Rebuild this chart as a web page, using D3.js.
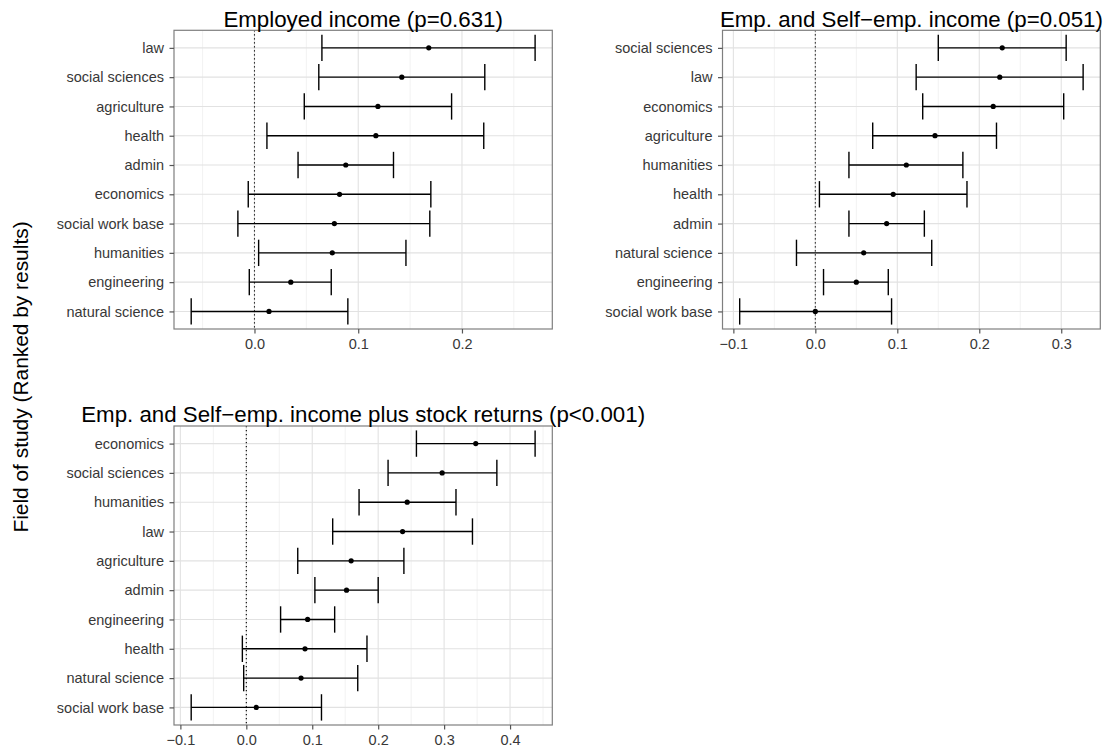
<!DOCTYPE html>
<html>
<head>
<meta charset="utf-8">
<script src="https://cdn.jsdelivr.net/npm/d3@7"></script>
<style>
  html, body { margin: 0; padding: 0; background: #fff; }
  svg { display: block; font-family: "Liberation Sans", Arial, Helvetica, sans-serif; }
</style>
</head>
<body>
<svg id="chart" width="1105" height="752"></svg>
<script>
// Employed income: fields ranked by estimate, with confidence limits
const fieldsEmp = ["law", "social sciences", "agriculture", "health", "admin",
  "economics", "social work base", "humanities", "engineering", "natural science"];
const estEmp = [0.168, 0.142, 0.119, 0.117, 0.088, 0.082, 0.077, 0.075, 0.035, 0.014];
const lowEmp = [0.065, 0.062, 0.048, 0.012, 0.042, -0.006, -0.016, 0.004, -0.005, -0.061];
const highEmp = [0.2705, 0.222, 0.190, 0.221, 0.134, 0.170, 0.169, 0.146, 0.074, 0.090];

// Employed and self-employed income
const fieldsSelf = ["social sciences", "law", "economics", "agriculture", "humanities",
  "health", "admin", "natural science", "engineering", "social work base"];
const estSelf = [0.228, 0.225, 0.217, 0.146, 0.111, 0.095, 0.087, 0.059, 0.050, 0.000];
const lowSelf = [0.150, 0.123, 0.131, 0.070, 0.041, 0.005, 0.041, -0.023, 0.010, -0.0923];
const highSelf = [0.306, 0.3267, 0.303, 0.221, 0.180, 0.185, 0.133, 0.142, 0.089, 0.093];

// Employed and self-employed income plus stock returns
const fieldsStock = ["economics", "social sciences", "humanities", "law", "agriculture",
  "admin", "engineering", "health", "natural science", "social work base"];
const estStock = [0.348, 0.297, 0.244, 0.237, 0.159, 0.152, 0.093, 0.089, 0.083, 0.015];
const lowStock = [0.258, 0.215, 0.171, 0.131, 0.078, 0.104, 0.052, -0.006, -0.004, -0.0836];
const highStock = [0.438, 0.380, 0.318, 0.343, 0.239, 0.200, 0.134, 0.183, 0.169, 0.114];

// Axis breaks and their labels
const breaksEmp = [0.0, 0.1, 0.2];
const labelsEmp = ["0.0", "0.1", "0.2"];
const breaksSelf = [-0.1, 0.0, 0.1, 0.2, 0.3];
const labelsSelf = ["\u22120.1", "0.0", "0.1", "0.2", "0.3"];
const breaksStock = [-0.1, 0.0, 0.1, 0.2, 0.3, 0.4];
const labelsStock = ["\u22120.1", "0.0", "0.1", "0.2", "0.3", "0.4"];

const titles = [
  "Employed income (p=0.631)",
  "Emp. and Self\u2212emp. income (p=0.051)",
  "Emp. and Self\u2212emp. income plus stock returns (p<0.001)"
];
const yTitle = "Field of study (Ranked by results)";

const svg = d3.select("#chart");

function drawPanel(cfg) {
  const { box, title, fields, est, low, high, breaks, labels } = cfg;
  const g = svg.append("g");

  // x range padded by 5% of the data span on each side
  const lo = d3.min(low), hi = d3.max(high);
  const pad = 0.05 * (hi - lo);
  const x = d3.scaleLinear().domain([lo - pad, hi + pad]).range([box.left, box.right]);
  const y = d3.scalePoint().domain(fields).range([box.top, box.bottom]).padding(0.6);
  const step = y.step();

  // background
  g.append("rect")
    .attr("x", box.left).attr("y", box.top)
    .attr("width", box.right - box.left).attr("height", box.bottom - box.top)
    .attr("fill", "#fff");

  // minor grid halfway between breaks
  const d = breaks[1] - breaks[0];
  const minor = [];
  for (let v = breaks[0] - d / 2; v <= breaks[breaks.length - 1] + d; v += d) minor.push(+v.toFixed(4));
  const [d0, d1] = x.domain();
  g.selectAll(".minor").data(minor.filter(v => v > d0 && v < d1)).join("line")
    .attr("x1", v => x(v)).attr("x2", v => x(v))
    .attr("y1", box.top).attr("y2", box.bottom)
    .attr("stroke", "#f2f2f2").attr("stroke-width", 1);

  // major grid
  g.selectAll(".majorx").data(breaks).join("line")
    .attr("x1", v => x(v)).attr("x2", v => x(v))
    .attr("y1", box.top).attr("y2", box.bottom)
    .attr("stroke", "#e2e2e2").attr("stroke-width", 1.1);
  g.selectAll(".majory").data(fields).join("line")
    .attr("x1", box.left).attr("x2", box.right)
    .attr("y1", f => y(f)).attr("y2", f => y(f))
    .attr("stroke", "#e2e2e2").attr("stroke-width", 1.1);

  // reference line at zero
  g.append("line")
    .attr("x1", x(0)).attr("x2", x(0))
    .attr("y1", box.top).attr("y2", box.bottom)
    .attr("stroke", "#000").attr("stroke-width", 1.1)
    .attr("stroke-dasharray", "1.2,2.8");

  // error bars
  const rows = fields.map((f, i) => ({ f, e: est[i], l: low[i], h: high[i] }));
  const bars = g.selectAll(".bar").data(rows).join("g");
  bars.append("line")
    .attr("x1", r => x(r.l)).attr("x2", r => x(r.h))
    .attr("y1", r => y(r.f)).attr("y2", r => y(r.f))
    .attr("stroke", "#000").attr("stroke-width", 1.4);
  bars.append("line")
    .attr("x1", r => x(r.l)).attr("x2", r => x(r.l))
    .attr("y1", r => y(r.f) - 0.45 * step).attr("y2", r => y(r.f) + 0.45 * step)
    .attr("stroke", "#000").attr("stroke-width", 1.4);
  bars.append("line")
    .attr("x1", r => x(r.h)).attr("x2", r => x(r.h))
    .attr("y1", r => y(r.f) - 0.45 * step).attr("y2", r => y(r.f) + 0.45 * step)
    .attr("stroke", "#000").attr("stroke-width", 1.4);
  bars.append("circle")
    .attr("cx", r => x(r.e)).attr("cy", r => y(r.f)).attr("r", 2.6)
    .attr("fill", "#000");

  // panel border
  g.append("rect")
    .attr("x", box.left).attr("y", box.top)
    .attr("width", box.right - box.left).attr("height", box.bottom - box.top)
    .attr("fill", "none").attr("stroke", "#7f7f7f").attr("stroke-width", 1.2);

  // axes
  const xAxis = g.append("g")
    .attr("transform", `translate(0,${box.bottom})`)
    .call(d3.axisBottom(x).tickValues(breaks).tickFormat((v, i) => labels[i])
      .tickSize(4.5).tickPadding(5.5));
  const yAxis = g.append("g")
    .attr("transform", `translate(${box.left},0)`)
    .call(d3.axisLeft(y).tickSize(4.5).tickPadding(5.5));
  [xAxis, yAxis].forEach(a => {
    a.select(".domain").remove();
    a.selectAll(".tick line").attr("stroke", "#555").attr("stroke-width", 1.2);
    a.selectAll(".tick text").attr("fill", "#383838")
      .style("font-size", "14.5px").style("font-family", "'Liberation Sans', Arial, sans-serif");
  });

  // title centred over the panel
  g.append("text")
    .attr("x", (box.left + box.right) / 2).attr("y", box.top - 3.8)
    .attr("text-anchor", "middle")
    .style("font-size", "22.3px").attr("fill", "#000")
    .text(title);
}

drawPanel({
  box: { left: 174, right: 552.3, top: 30.3, bottom: 329 },
  title: titles[0], fields: fieldsEmp, est: estEmp, low: lowEmp, high: highEmp,
  breaks: breaksEmp, labels: labelsEmp
});
drawPanel({
  box: { left: 722.5, right: 1100.3, top: 30.3, bottom: 329 },
  title: titles[1], fields: fieldsSelf, est: estSelf, low: lowSelf, high: highSelf,
  breaks: breaksSelf, labels: labelsSelf
});
drawPanel({
  box: { left: 174, right: 552.3, top: 426, bottom: 725 },
  title: titles[2], fields: fieldsStock, est: estStock, low: lowStock, high: highStock,
  breaks: breaksStock, labels: labelsStock
});

// shared y-axis title
svg.append("text")
  .attr("transform", "translate(28,377) rotate(-90)")
  .attr("text-anchor", "middle")
  .style("font-size", "20.9px").attr("fill", "#000")
  .text(yTitle);
</script>
</body>
</html>
